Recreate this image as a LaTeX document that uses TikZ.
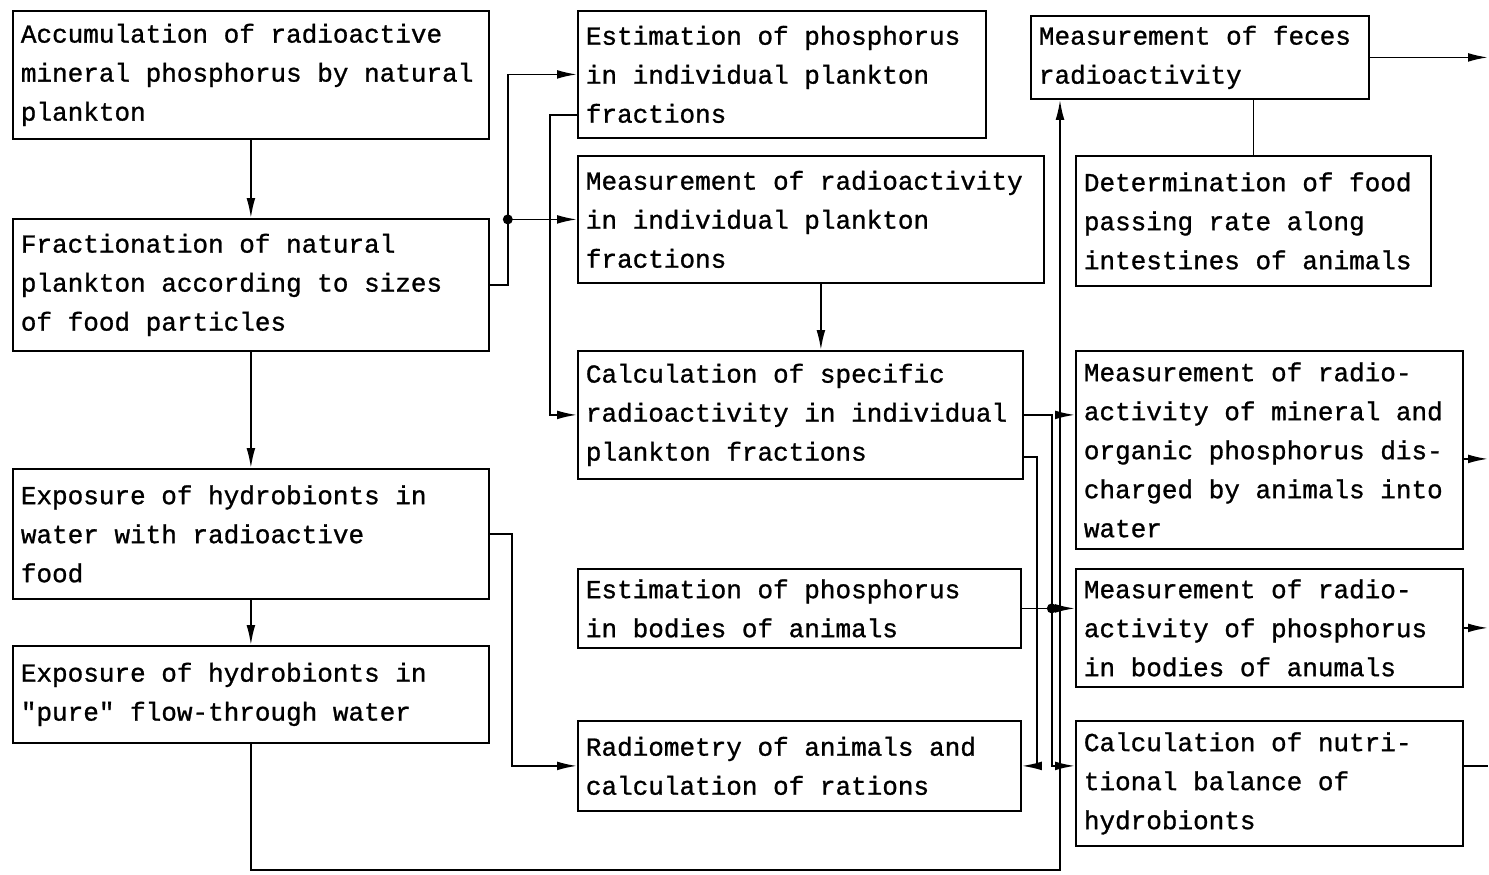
\documentclass[tikz,border=0pt]{standalone}
\usepackage{fontspec}
\newfontfamily\typefont{Liberation Mono}[FakeBold=1]
\newcommand\boxfont{\typefont\fontsize{13pt}{19.5pt}\selectfont}
\usetikzlibrary{arrows.meta}
\begin{document}
\begin{tikzpicture}[x=0.5pt, y=-0.5pt, line width=0.9pt,
  stage/.style={draw, anchor=north west, align=left, inner xsep=4pt, inner ysep=0pt, font=\boxfont,
    execute at begin node={\spaceskip=0.6em\relax\xspaceskip=0.6em\relax}},
  flow/.style={-{Latex[length=10pt,width=4.4pt]}}]
\useasboundingbox (0,0) rectangle (1489,874);
\node[stage, text width=230pt, minimum height=64pt] (acc) at (12,10){Accumulation of radioactive\\mineral phosphorus by natural\\plankton};
\node[stage, text width=230pt, minimum height=66pt] (frac) at (12,218){Fractionation of natural\\plankton according to sizes\\of food particles};
\node[stage, text width=230pt, minimum height=65pt] (expfood) at (12,468){Exposure of hydrobionts in\\water with radioactive\\food};
\node[stage, text width=230pt, minimum height=48.5pt] (exppure) at (12,645){Exposure of hydrobionts in\\"pure" flow-through water};
\node[stage, text width=196pt, minimum height=63.5pt] (estplk) at (577,10){Estimation of phosphorus\\in individual plankton\\fractions};
\node[stage, text width=225pt, minimum height=63.5pt] (radplk) at (577,155){Measurement of radioactivity\\in individual plankton\\fractions};
\node[stage, text width=214.5pt, minimum height=64pt] (specrad) at (577,350){Calculation of specific\\radioactivity in individual\\plankton fractions};
\node[stage, text width=213.5pt, minimum height=39.5pt] (estbody) at (577,568){Estimation of phosphorus\\in bodies of animals};
\node[stage, text width=213.5pt, minimum height=45pt] (ration) at (577,720){Radiometry of animals and\\calculation of rations};
\node[stage, text width=161pt, minimum height=41.5pt] (feces) at (1030,15){Measurement of feces\\radioactivity};
\node[stage, text width=169.5pt, minimum height=65pt] (passing) at (1075,155){Determination of food\\passing rate along\\intestines of animals};
\node[stage, text width=185.5pt, minimum height=99pt] (discharge) at (1075,350){Measurement of radio-\\activity of mineral and\\organic phosphorus dis-\\charged by animals into\\water};
\node[stage, text width=185.5pt, minimum height=59pt] (bodyrad) at (1075,568){Measurement of radio-\\activity of phosphorus\\in bodies of anumals};
\node[stage, text width=185.5pt, minimum height=62.5pt] (balance) at (1075,720){Calculation of nutri-\\tional balance of\\hydrobionts};
\coordinate (split) at ([xshift=9pt]frac.east |- radplk.west);
\coordinate (merge) at ([xshift=14pt]specrad.east |- estbody.east);
\coordinate (base) at (1060,870);
\coordinate (rim) at (1488,0);
\draw[flow] (acc) -- (frac);
\draw[flow] (frac) -- (expfood);
\draw[flow] (expfood) -- (exppure);
\draw[flow] (frac.east) -| (split) |- (estplk.west);
\draw[flow] (split) -- (radplk.west);
\fill (split) circle (2.5pt);
\draw[flow] ([yshift=12pt]estplk.south west) -- ++(-27,0) |- (specrad.west);
\draw[flow] ([xshift=5pt]radplk.south) -- ([xshift=5pt]radplk.south |- specrad.north);
\draw[flow] (expfood.east) -- ++(22,0) |- (ration.west);
\draw[flow] (exppure.south) |- (base) -- (base |- feces.south);
\draw[flow] (specrad.east -| base) -- (specrad.east -| discharge.west);
\draw[flow] (specrad.east) -| (merge) |- (ration.west -| balance.west);
\draw[flow] (estbody.east) -- (estbody.east -| bodyrad.west);
\fill (merge) circle (2.5pt);
\draw[flow] ([yshift=11.5pt]specrad.south east) -- ++(13,0) |- (ration.east);
\draw (feces.south -| passing.north) -- (passing.north);
\draw[flow] (feces.east) -- (feces.east -| rim);
\draw[flow] ([yshift=-4.5pt]discharge.east) -- ([yshift=-4.5pt]discharge.east -| rim);
\draw[flow] (bodyrad.east) -- (bodyrad.east -| rim);
\draw (ration.west -| balance.east) -- (ration.west -| rim);
\end{tikzpicture}
\end{document}
